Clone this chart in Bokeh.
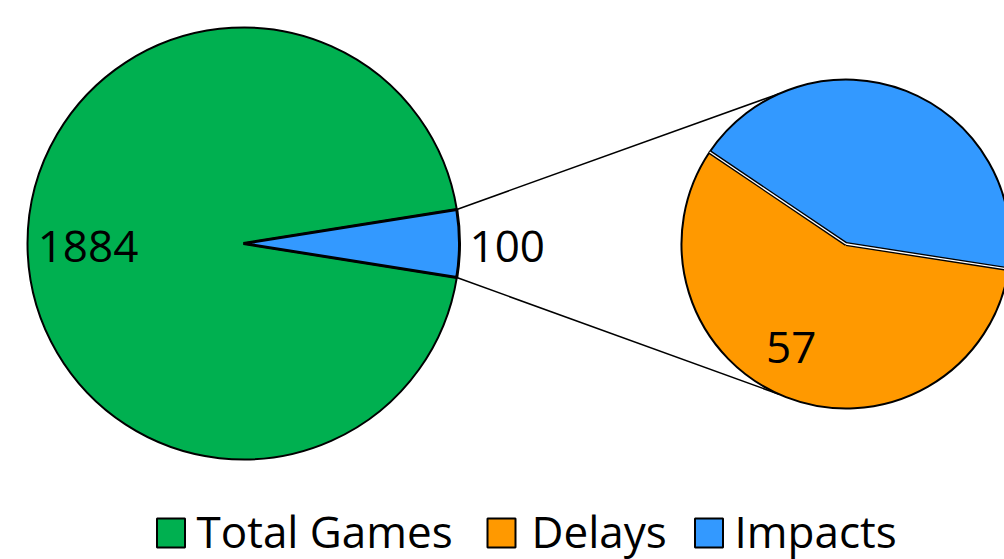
import numpy as np
from bokeh.plotting import figure
from bokeh.models import Range1d
from bokeh.core.properties import value
from bokeh.embed import file_html
from bokeh.resources import INLINE

# Main pie: total games split into the "other" group that is broken out
main_labels = ["Total Games", "Other"]
main_values = [1884, 100]
# Secondary pie: breakdown of the "other" group
sub_labels = ["Delays", "Impacts"]
sub_values = [57, 43]
legend_labels = ["Total Games", "Delays", "Impacts"]

GREEN, ORANGE, BLUE = "#00b050", "#ff9900", "#3399ff"
colors = {"Total Games": GREEN, "Delays": ORANGE, "Impacts": BLUE}
FONT = value("Open Sans")

W, H = 1004, 559
p = figure(width=W, height=H, x_range=Range1d(0, W), y_range=Range1d(0, H),
           output_backend="svg", toolbar_location=None, min_border=0,
           x_axis_location=None, y_axis_location=None)
p.grid.visible = False
p.outline_line_color = None
p.background_fill_color = "white"


def Y(ypix):
    """Convert a top-down pixel row into the y data coordinate."""
    return H - ypix


cx1, cy1, r1 = 243.0, Y(243), 216.0
cx2, cy2, r2 = 845.5, Y(243.5), 164.5

# ---- main pie ----
total = sum(main_values)
split = 2 * np.pi * main_values[1] / total
p.wedge(x=cx1, y=cy1, radius=r1, start_angle=split / 2, end_angle=2 * np.pi - split / 2,
        fill_color=GREEN, line_color="black", line_width=2)

# ---- connector lines from the broken-out slice to the secondary pie ----
conn_angle = np.deg2rad(114)
for s in (1, -1):
    x0 = cx1 + r1 * np.cos(s * split / 2)
    y0 = cy1 + r1 * np.sin(s * split / 2)
    x1 = cx2 + r2 * np.cos(s * conn_angle)
    y1 = cy2 + r2 * np.sin(s * conn_angle)
    p.line([x0, x1], [y0, y1], line_color="black", line_width=1.5)

p.wedge(x=cx1, y=cy1, radius=r1, start_angle=-split / 2, end_angle=split / 2,
        fill_color=BLUE, line_color="black", line_width=3)

# ---- secondary pie ----
sub_total = sum(sub_values)
start = np.deg2rad(146)
bounds = [start]
for v in sub_values:
    bounds.append(bounds[-1] + 2 * np.pi * v / sub_total)
for lab, a0, a1 in zip(sub_labels, bounds[:-1], bounds[1:]):
    p.wedge(x=cx2, y=cy2, radius=r2, start_angle=a0, end_angle=a1,
            fill_color=colors[lab], line_color="black", line_width=2)
# slice separators: thin white gap outlined in black
for a in bounds[:-1]:
    xs = [cx2, cx2 + r2 * np.cos(a)]
    ys = [cy2, cy2 + r2 * np.sin(a)]
    p.line(xs, ys, line_color="black", line_width=4)
    p.line(xs, ys, line_color="white", line_width=1.3)

# ---- data labels (vertically centred on the digits) ----
lab_size = "44px"
common = dict(text_baseline="middle", text_font=FONT, text_font_size=lab_size,
              text_color="black")
# inside the large slice
p.text(x=[cx1 + 0.72 * r1 * np.cos(np.pi)], y=[Y(246)], text=[str(main_values[0])],
       text_align="center", **common)
# outside end of the broken-out slice
p.text(x=[cx1 + r1 + 10], y=[Y(246)], text=[str(main_values[1])],
       text_align="left", **common)
# delays slice
la = np.deg2rad(242)
p.text(x=[cx2 + 0.71 * r2 * np.cos(la)], y=[cy2 + 0.71 * r2 * np.sin(la)],
       text=[str(sub_values[0])], text_align="center", **common)

# ---- legend ----
sq_x = [170.5, 501.0, 708.5]
txt_x = [196.0, 531.0, 734.0]
p.rect(x=sq_x, y=[Y(532.5)] * 3, width=28, height=29,
       fill_color=[colors[l] for l in legend_labels], line_color="black", line_width=2)
p.text(x=txt_x, y=[Y(530)] * 3, text=legend_labels, text_align="left",
       text_baseline="middle", text_font=FONT, text_font_size="44px",
       text_color="black")

open("out.html", "w").write(file_html(p, INLINE))
